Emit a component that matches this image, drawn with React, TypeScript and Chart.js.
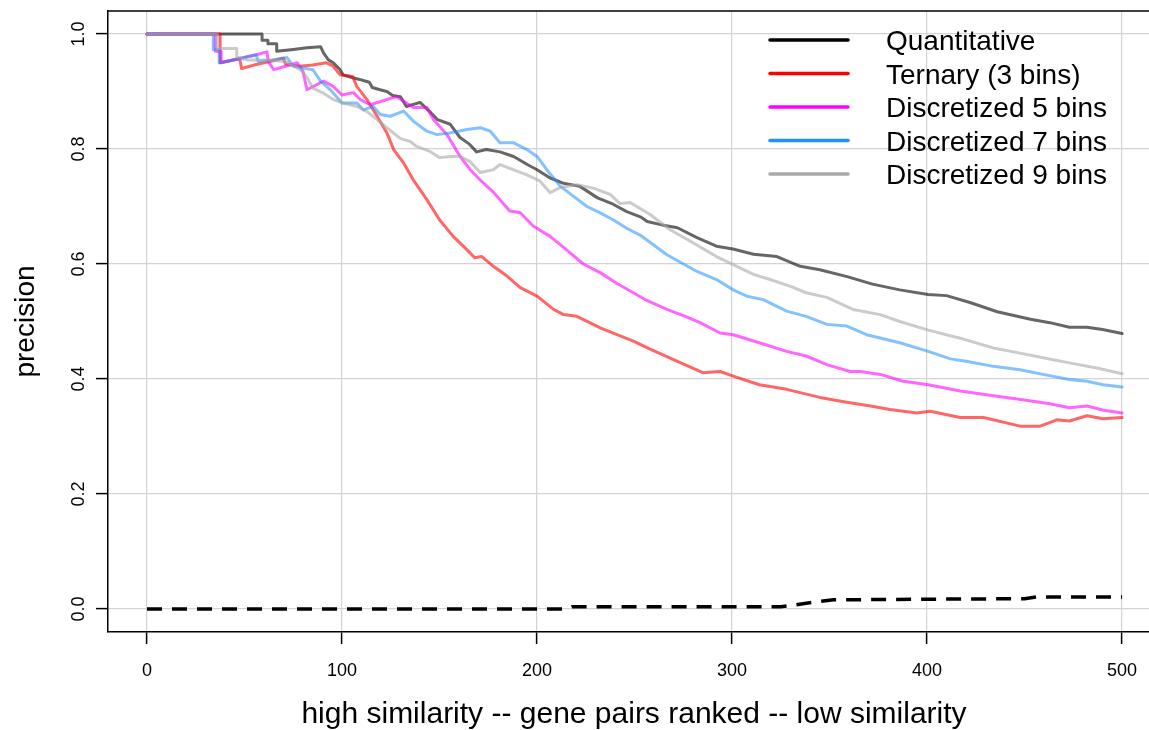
import { useEffect, useRef } from "react";
import { Chart, registerables } from "chart.js";

Chart.register(...registerables);

const seriesLabels = [
  "Quantitative",
  "Ternary (3 bins)",
  "Discretized 5 bins",
  "Discretized 7 bins",
  "Discretized 9 bins",
];
const legendColors = ["#000000", "#ff0000", "#ff00ff", "#1e90ff", "#a9a9a9"];
const lineColors = [
  "rgba(0,0,0,0.6)",
  "rgba(255,0,0,0.6)",
  "rgba(255,0,255,0.6)",
  "rgba(30,144,255,0.55)",
  "rgba(169,169,169,0.6)",
];

const quantRank = [0, 59, 59, 62, 62, 66.5, 66.5, 75, 82, 89, 90.5, 93, 95.5, 99, 100.5, 105.5, 109, 114, 115.5, 119.5, 123, 126, 130, 133, 140, 145, 149, 155.5, 160.5, 165.5, 169, 174, 181, 188, 195, 200, 206.5, 213, 222, 231, 239, 246, 253, 256.5, 264, 272, 282, 292, 300.5, 311, 323, 335, 345, 359, 372, 386, 400.5, 410, 422, 436, 453, 463, 473, 482, 490, 500];
const quantPrec = [1, 1, 0.989, 0.989, 0.983, 0.983, 0.97, 0.973, 0.976, 0.978, 0.967, 0.955, 0.95, 0.938, 0.929, 0.924, 0.921, 0.916, 0.907, 0.903, 0.9, 0.893, 0.891, 0.874, 0.881, 0.865, 0.851, 0.843, 0.82, 0.808, 0.795, 0.799, 0.795, 0.787, 0.773, 0.764, 0.75, 0.741, 0.735, 0.715, 0.704, 0.691, 0.682, 0.674, 0.668, 0.663, 0.646, 0.631, 0.626, 0.617, 0.613, 0.596, 0.59, 0.578, 0.565, 0.555, 0.547, 0.545, 0.533, 0.517, 0.504, 0.498, 0.49, 0.49, 0.486, 0.479];

const ternRank = [0, 37.5, 37.5, 47.5, 48.5, 56, 63, 70, 71, 78, 85, 92, 95.5, 99, 105.5, 107.5, 112.8, 118, 123, 126.5, 131.5, 136.6, 143.5, 150, 157, 164, 168, 171.7, 177.6, 184.6, 191.4, 200, 208.5, 213.6, 220.4, 227, 232.4, 241, 249.4, 258, 271.7, 285, 293.9, 300.6, 314, 328, 345, 358, 371, 381, 394.7, 401.6, 417, 429, 447.7, 458, 466.5, 473, 482, 490.3, 500];
const ternPrec = [1, 1, 0.95, 0.957, 0.94, 0.947, 0.952, 0.958, 0.948, 0.944, 0.946, 0.95, 0.944, 0.929, 0.926, 0.909, 0.886, 0.857, 0.828, 0.799, 0.776, 0.746, 0.712, 0.677, 0.648, 0.625, 0.611, 0.613, 0.596, 0.579, 0.559, 0.544, 0.521, 0.512, 0.509, 0.498, 0.489, 0.477, 0.466, 0.452, 0.431, 0.411, 0.413, 0.405, 0.39, 0.382, 0.368, 0.36, 0.353, 0.347, 0.341, 0.344, 0.333, 0.333, 0.318, 0.318, 0.329, 0.327, 0.336, 0.331, 0.333];

const bin5Rank = [0, 35, 35, 38, 38, 47, 56, 61.5, 62.2, 65, 71, 77, 80, 82, 90.5, 95.5, 100, 105.8, 109.4, 114.5, 123, 128, 131.6, 136.7, 143.5, 147, 153.8, 160.6, 165.7, 170.9, 177.6, 186, 191.4, 198, 206.7, 215, 223.7, 232.4, 241, 249.4, 256, 266.6, 276, 283.6, 293.9, 300.6, 314, 328, 338, 348.6, 360.5, 365.7, 376, 387.8, 400.6, 417, 435.8, 449, 463, 473, 482, 490, 500];
const bin5Prec = [1, 1, 0.97, 0.97, 0.95, 0.957, 0.964, 0.969, 0.952, 0.938, 0.944, 0.95, 0.935, 0.903, 0.918, 0.909, 0.894, 0.898, 0.886, 0.877, 0.886, 0.891, 0.883, 0.872, 0.872, 0.851, 0.825, 0.787, 0.764, 0.746, 0.725, 0.692, 0.689, 0.666, 0.648, 0.625, 0.6, 0.585, 0.566, 0.55, 0.537, 0.521, 0.509, 0.498, 0.48, 0.477, 0.463, 0.448, 0.44, 0.425, 0.413, 0.413, 0.408, 0.396, 0.39, 0.379, 0.37, 0.364, 0.357, 0.35, 0.353, 0.346, 0.341];

const bin7Rank = [0, 34, 34, 37, 37, 47, 56, 57, 64, 71.8, 75, 80, 85, 89, 94, 100, 107.7, 111, 116, 119.6, 124.7, 131.6, 136.7, 143.5, 148.7, 155.5, 164, 170.9, 176, 181, 187.8, 194.8, 200, 205, 212, 218.6, 225.6, 232.4, 239, 246, 253, 266.6, 282, 292, 300.6, 307.6, 316, 328, 338, 348.6, 358.9, 369, 386, 400.6, 412, 420, 434, 447.7, 459.5, 473, 482, 490.3, 500];
const bin7Prec = [1, 1, 0.973, 0.973, 0.95, 0.957, 0.964, 0.952, 0.955, 0.959, 0.944, 0.941, 0.938, 0.918, 0.903, 0.88, 0.88, 0.868, 0.874, 0.86, 0.857, 0.866, 0.848, 0.831, 0.825, 0.828, 0.834, 0.837, 0.831, 0.811, 0.811, 0.799, 0.787, 0.764, 0.735, 0.718, 0.7, 0.689, 0.677, 0.662, 0.65, 0.616, 0.587, 0.573, 0.555, 0.544, 0.538, 0.518, 0.509, 0.495, 0.492, 0.477, 0.463, 0.448, 0.435, 0.431, 0.422, 0.416, 0.408, 0.399, 0.396, 0.39, 0.386];

const bin9Rank = [0, 36, 36, 46, 46, 51, 60, 71, 78.6, 82, 85, 90.5, 95.5, 100.6, 107.7, 112.8, 118, 123, 130, 135, 138, 145, 150, 155.5, 160.6, 165.7, 170.9, 177.6, 181, 187.8, 194.8, 201.6, 206.7, 212, 220.4, 228.8, 237.5, 242.6, 247.7, 258, 268, 280, 292, 300.6, 311, 319.5, 330, 338, 348.6, 362, 376, 386, 400.6, 417, 434, 447.7, 459.5, 473, 487, 500];
const bin9Prec = [1, 1, 0.975, 0.975, 0.96, 0.955, 0.955, 0.952, 0.938, 0.925, 0.906, 0.897, 0.886, 0.88, 0.874, 0.865, 0.851, 0.837, 0.818, 0.813, 0.805, 0.796, 0.785, 0.787, 0.787, 0.778, 0.759, 0.764, 0.773, 0.764, 0.755, 0.744, 0.724, 0.733, 0.738, 0.732, 0.721, 0.705, 0.707, 0.686, 0.66, 0.637, 0.613, 0.599, 0.582, 0.573, 0.561, 0.55, 0.542, 0.521, 0.512, 0.5, 0.485, 0.471, 0.454, 0.445, 0.437, 0.428, 0.419, 0.409];

const randomRank = [0, 215, 218, 325, 330, 338, 342, 352, 450, 456, 500];
const randomPrec = [0, 0, 0.004, 0.004, 0.006, 0.01, 0.012, 0.016, 0.018, 0.021, 0.021];

const xTicks = [0, 100, 200, 300, 400, 500];
const xTickLabels = ["0", "100", "200", "300", "400", "500"];
const yTicks = [0, 0.2, 0.4, 0.6, 0.8, 1.0];
const yTickLabels = ["0.0", "0.2", "0.4", "0.6", "0.8", "1.0"];
const xTitle = "high similarity -- gene pairs ranked -- low similarity";
const yTitle = "precision";

const FONT = '"Liberation Sans", Arial, Helvetica, sans-serif';
const CANVAS_W = 1164;
const CANVAS_H = 730;

const toPoints = (xs: number[], ys: number[]) => xs.map((x, i) => ({ x, y: ys[i] }));

const decorPlugin = {
  id: "decor",
  afterDraw(chart: any) {
    const { ctx, chartArea, scales } = chart;
    ctx.save();
    // top of box
    ctx.strokeStyle = "#000";
    ctx.lineWidth = 1.5;
    ctx.beginPath();
    ctx.moveTo(chartArea.left - 0.75, chartArea.top);
    ctx.lineTo(chartArea.right, chartArea.top);
    ctx.stroke();

    ctx.fillStyle = "#000";
    ctx.font = `18px ${FONT}`;
    ctx.textAlign = "center";
    ctx.textBaseline = "alphabetic";
    xTicks.forEach((v, i) => {
      ctx.fillText(xTickLabels[i], scales.x.getPixelForValue(v), 676);
    });
    yTicks.forEach((v, i) => {
      const y = scales.y.getPixelForValue(v);
      ctx.save();
      ctx.translate(84, y);
      ctx.rotate(-Math.PI / 2);
      ctx.fillText(yTickLabels[i], 0, 0);
      ctx.restore();
    });

    ctx.font = `30px ${FONT}`;
    ctx.fillText(xTitle, 634, 723);
    ctx.save();
    ctx.translate(34, (chartArea.top + chartArea.bottom) / 2);
    ctx.rotate(-Math.PI / 2);
    ctx.font = `28px ${FONT}`;
    ctx.fillText(yTitle, 0, 0);
    ctx.restore();

    // legend
    ctx.font = `28px ${FONT}`;
    ctx.textAlign = "left";
    seriesLabels.forEach((label, i) => {
      const y = 40 + 33.5 * i;
      ctx.strokeStyle = legendColors[i];
      ctx.lineWidth = 3.5;
      ctx.lineCap = "round";
      ctx.beginPath();
      ctx.moveTo(770, y);
      ctx.lineTo(848, y);
      ctx.stroke();
      ctx.fillStyle = "#000";
      ctx.fillText(label, 886, y + 10);
    });
    ctx.restore();
  },
};

export default function App() {
  const ref = useRef<HTMLCanvasElement>(null);
  useEffect(() => {
    document.body.style.margin = "0";
    const canvas = ref.current!;
    const seriesData = [
      toPoints(quantRank, quantPrec),
      toPoints(ternRank, ternPrec),
      toPoints(bin5Rank, bin5Prec),
      toPoints(bin7Rank, bin7Prec),
      toPoints(bin9Rank, bin9Prec),
    ];
    const datasets: any[] = seriesData.map((d, i) => ({
      label: seriesLabels[i],
      data: d,
      borderColor: lineColors[i],
      borderWidth: 3,
      pointRadius: 0,
      fill: false,
      tension: 0,
      borderJoinStyle: "round",
      borderCapStyle: "round",
      order: 5 - i,
    }));
    datasets.push({
      label: "random",
      data: toPoints(randomRank, randomPrec),
      borderColor: "#000",
      borderWidth: 3.5,
      borderDash: [15, 10],
      pointRadius: 0,
      fill: false,
      tension: 0,
      borderCapStyle: "butt",
      order: 0,
    });
    const chart = new Chart(canvas, {
      type: "line",
      data: { datasets },
      options: {
        animation: false,
        responsive: false,
        devicePixelRatio: 1,
        layout: { padding: { top: 11, left: 0, right: 0, bottom: 0 } },
        plugins: {
          legend: { display: false },
          tooltip: { enabled: false },
          title: { display: false },
        },
        scales: {
          x: {
            type: "linear",
            min: -20,
            max: 521.5,
            afterBuildTicks: (s: any) => {
              s.ticks = xTicks.map((v) => ({ value: v }));
            },
            afterFit: (s: any) => {
              s.height = 98;
            },
            ticks: { display: false },
            grid: {
              color: "#d3d3d3",
              lineWidth: 1.2,
              tickColor: "#000",
              tickLength: 12,
              tickWidth: 1.5,
              drawTicks: true,
            },
            border: { display: true, color: "#000", width: 1.5 },
          },
          y: {
            type: "linear",
            min: -0.04,
            max: 1.04,
            afterBuildTicks: (s: any) => {
              s.ticks = yTicks.map((v) => ({ value: v }));
            },
            afterFit: (s: any) => {
              s.width = 108;
            },
            ticks: { display: false },
            grid: {
              color: "#d3d3d3",
              lineWidth: 1.2,
              tickColor: "#000",
              tickLength: 12,
              tickWidth: 1.5,
              drawTicks: true,
            },
            border: { display: true, color: "#000", width: 1.5 },
          },
        },
      } as any,
      plugins: [decorPlugin],
    });
    return () => chart.destroy();
  }, []);
  return (
    <div style={{ position: "absolute", left: 0, top: 0, width: 1149, height: CANVAS_H, overflow: "hidden" }}>
      <canvas
        ref={ref}
        width={CANVAS_W}
        height={CANVAS_H}
        style={{ display: "block", width: CANVAS_W, height: CANVAS_H }}
      />
    </div>
  );
}
